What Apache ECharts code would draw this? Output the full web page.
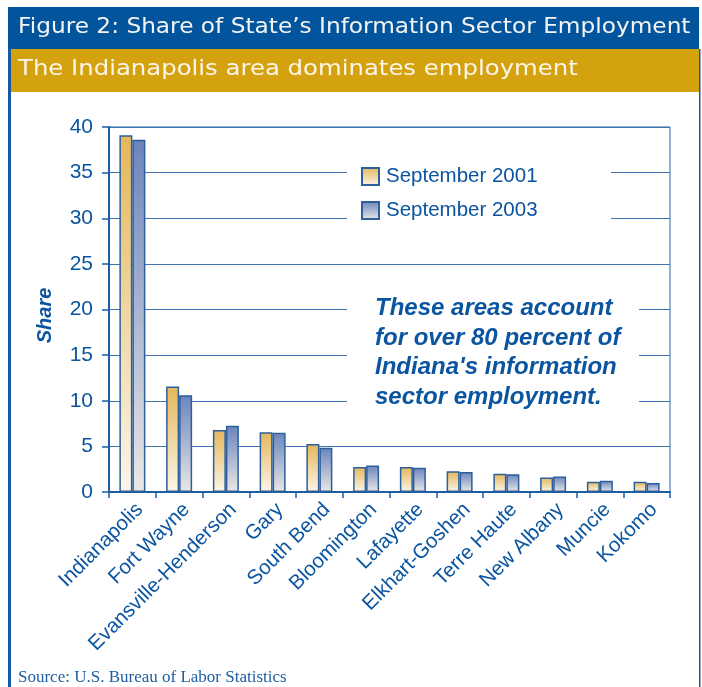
<!DOCTYPE html>
<html>
<head>
<meta charset="utf-8">
<script src="https://cdn.jsdelivr.net/npm/echarts@6/dist/echarts.min.js"></script>
<style>
html,body{margin:0;padding:0;background:#fff;}
#chart{width:702px;height:687px;}
</style>
</head>
<body>
<div id="chart"></div>
<script>
var categories = ['Indianapolis','Fort Wayne','Evansville-Henderson','Gary','South Bend','Bloomington','Lafayette','Elkhart-Goshen','Terre Haute','New Albany','Muncie','Kokomo'];
var sep2001 = [39.1, 11.55, 6.8, 6.55, 5.25, 2.75, 2.75, 2.27, 2.0, 1.6, 1.13, 1.13];
var sep2003 = [38.6, 10.6, 7.25, 6.5, 4.85, 2.9, 2.65, 2.2, 1.95, 1.7, 1.22, 0.98];
var seriesNames = ['September 2001','September 2003'];
var titleText = 'Figure 2: Share of State\u2019s Information Sector Employment';
var subtitleText = 'The Indianapolis area dominates employment';
var noteLines = ['These areas account','for over 80 percent of',"Indiana's information",'sector employment.'];
var sourceText = 'Source: U.S. Bureau of Labor Statistics';

var BLUE = '#0b55a0';
var chart = echarts.init(document.getElementById('chart'));

function grad(top, bottom){
  return new echarts.graphic.LinearGradient(0,0,0,1,[{offset:0,color:top},{offset:1,color:bottom}]);
}

chart.setOption({
  backgroundColor:'#fff',
  animation:false,
  grid:{left:109,right:32,top:127,bottom:195,show:true,borderColor:'#2a64a5',borderWidth:1},
  legend:{
    orient:'vertical',left:356,top:161,itemWidth:17,itemHeight:17,itemGap:13,icon:'rect',z:20,
    textStyle:{fontFamily:'Liberation Sans',fontSize:20.5,color:BLUE,padding:[0,0,0,2]},
    data:seriesNames
  },
  xAxis:{
    type:'category',data:categories,
    axisLine:{lineStyle:{color:'#1a5da2',width:2}},
    axisTick:{show:true,interval:0,length:6,lineStyle:{color:'#1a5da2',width:1.5}},
    axisLabel:{interval:0,rotate:45,margin:7,verticalAlign:'top',fontFamily:'Liberation Sans',fontSize:20.5,color:BLUE}
  },
  yAxis:{
    type:'value',min:0,max:40,interval:5,
    name:'Share',nameLocation:'middle',nameGap:54,
    nameTextStyle:{fontFamily:'Liberation Sans',fontSize:20,fontWeight:'bold',fontStyle:'italic',color:BLUE,padding:[0,12,0,0]},
    axisLine:{show:true,lineStyle:{color:'#1a5da2',width:2}},
    axisTick:{show:true,length:7,lineStyle:{color:'#1a5da2',width:1.5}},
    axisLabel:{margin:16,fontFamily:'Liberation Sans',fontSize:21,color:BLUE},
    splitLine:{lineStyle:{color:'#3f73b2',width:1.2}}
  },
  series:[
    {name:seriesNames[0],type:'bar',data:sep2001,barWidth:13,barGap:'0%',z:3,
     itemStyle:{color:grad('#e4b75a','#fcf5e8'),borderColor:'#2c5f9c',borderWidth:1.5}},
    {name:seriesNames[1],type:'bar',data:sep2003,barWidth:13,z:3,
     itemStyle:{color:grad('#6a85bd','#ebe8e6'),borderColor:'#2c5f9c',borderWidth:1.5}}
  ],
  graphic:[
    {type:'rect',z:1,shape:{x:8,y:7,width:691,height:42},style:{fill:'#02549c'}},
    {type:'rect',z:1,shape:{x:10,y:49,width:689,height:43},style:{fill:'#d4a10f'}},
    {type:'rect',z:1,shape:{x:8,y:49,width:3,height:640},style:{fill:'#1659a0'}},
    {type:'rect',z:1,shape:{x:699,y:49,width:1.5,height:640},style:{fill:'#1659a0'}},
    {type:'text',z:2,x:18,y:28,scaleX:1.107,style:{text:titleText,fontFamily:'DejaVu Sans',fontSize:21,fill:'#f4f4f4',verticalAlign:'middle'}},
    {type:'text',z:2,x:18,y:70,scaleX:1.16,style:{text:subtitleText,fontFamily:'DejaVu Sans',fontSize:21,fill:'#fbf6ea',verticalAlign:'middle'}},
    {type:'rect',z:5,shape:{x:347,y:150,width:264,height:90},style:{fill:'#fff'}},
    {type:'rect',z:5,shape:{x:347,y:285,width:292,height:140},style:{fill:'#fff'}},
    {type:'text',z:20,x:375,y:294,style:{text:noteLines.join('\n'),fontFamily:'Liberation Sans',fontSize:24,fontWeight:'bold',fontStyle:'italic',lineHeight:29.5,fill:BLUE,verticalAlign:'top'}},
    {type:'text',z:2,x:18,y:678,style:{text:sourceText,fontFamily:'Liberation Serif',fontSize:17,fill:'#1f5fa0',verticalAlign:'middle'}}
  ]
});
</script>
</body>
</html>
